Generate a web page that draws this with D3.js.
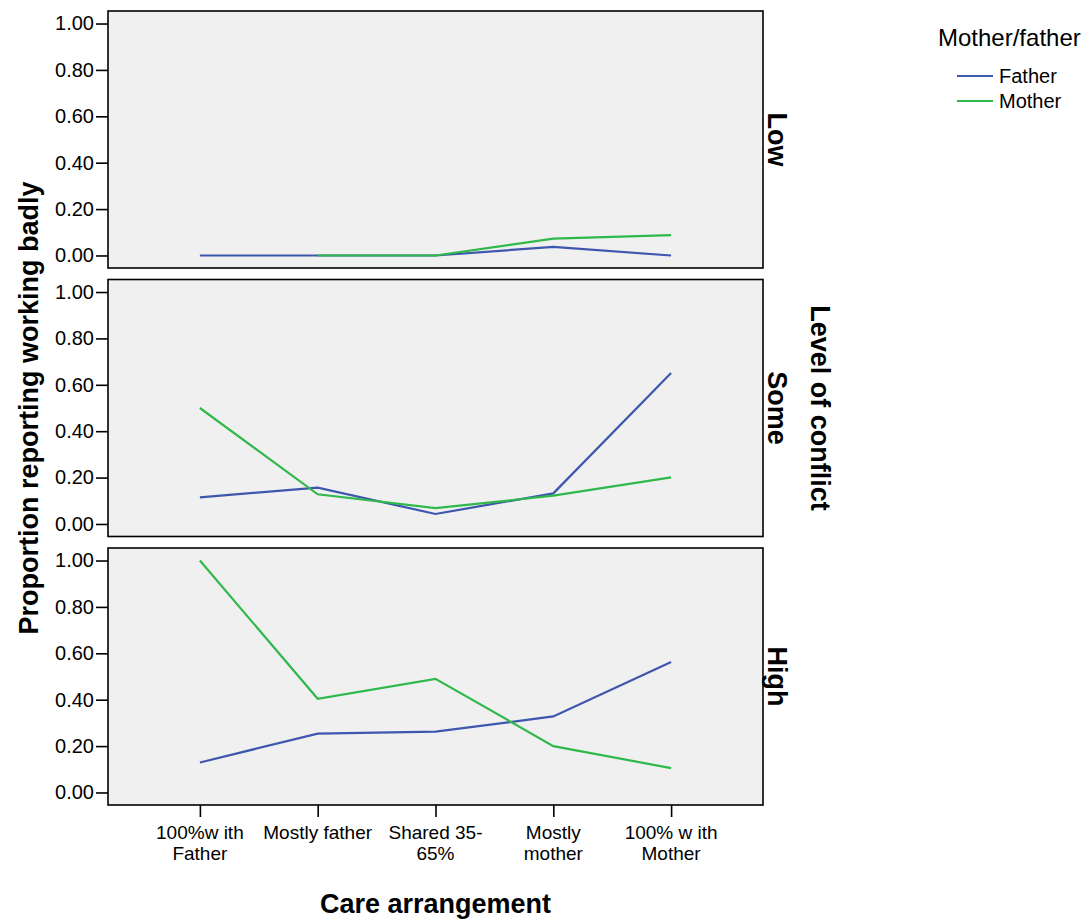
<!DOCTYPE html>
<html><head><meta charset="utf-8">
<script src="https://cdn.jsdelivr.net/npm/d3@7"></script>
<style>body{margin:0;background:#fff}svg{display:block}text{font-family:"Liberation Sans",Arial,sans-serif}</style>
</head><body><svg id="c" width="1092" height="922"></svg>
<script>
const categories = ["100%with Father","Mostly father","Shared 35-65%","Mostly mother","100% with Mother"];
const categoryLines = [["100%w ith","Father"],["Mostly father"],["Shared 35-","65%"],["Mostly","mother"],["100% w ith","Mother"]];
const panels = ["Low","Some","High"];
const seriesNames = ["Father","Mother"];
const fatherLow  = [0, 0, 0, 0.037, 0];
const motherLow  = [null, 0, 0, 0.073, 0.088];
const fatherSome = [0.115, 0.157, 0.043, 0.132, 0.651];
const motherSome = [0.500, 0.128, 0.068, 0.122, 0.201];
const fatherHigh = [0.129, 0.254, 0.262, 0.328, 0.563];
const motherHigh = [1.000, 0.404, 0.490, 0.200, 0.105];
const yTicks = [0, 0.2, 0.4, 0.6, 0.8, 1.0];

const data = {
  Low:  {Father: fatherLow,  Mother: motherLow},
  Some: {Father: fatherSome, Mother: motherSome},
  High: {Father: fatherHigh, Mother: motherHigh}
};
const colors = {Father:"#3d56ae", Mother:"#2fb84b"};

const svg = d3.select("#c");
const left = 108, right = 763;
const panelTops = [11, 279.5, 548];
const panelH = 257;

const x = d3.scalePoint().domain(categories).range([left, right]).padding(0.78);

panels.forEach((p, i) => {
  const top = panelTops[i];
  const y = d3.scaleLinear().domain([-0.054, 1.054]).range([top + panelH, top]);
  const g = svg.append("g");
  g.append("rect").attr("x", left).attr("y", top).attr("width", right-left).attr("height", panelH)
    .attr("fill", "#f0f0f0").attr("stroke", "#000").attr("stroke-width", 1.6);
  const ax = g.append("g").attr("transform", `translate(${left},0)`)
    .call(d3.axisLeft(y).tickValues(yTicks).tickFormat(d3.format(".2f")).tickSize(12).tickPadding(2));
  ax.select(".domain").remove();
  ax.selectAll(".tick line").attr("stroke", "#000").attr("stroke-width", 1.6);
  ax.selectAll(".tick text").attr("font-size", 20).attr("fill", "#000");
  seriesNames.forEach(s => {
    const vals = data[p][s];
    const line = d3.line().defined(d => d != null)
      .x((d, j) => x(categories[j])).y(d => y(d));
    g.append("path").datum(vals).attr("d", line).attr("fill", "none")
      .attr("stroke", colors[s]).attr("stroke-width", 2.2);
  });
  g.append("text").attr("transform", `translate(${right+5},${top+panelH/2}) rotate(90)`)
    .attr("text-anchor", "middle").attr("font-size", 27).attr("font-weight", "bold").text(p);
});

// x axis
const bottom = panelTops[2] + panelH;
const xa = svg.append("g").attr("transform", `translate(0,${bottom})`)
  .call(d3.axisBottom(x).tickSize(12).tickFormat(""));
xa.select(".domain").remove();
xa.selectAll(".tick line").attr("stroke", "#000").attr("stroke-width", 1.6);
categories.forEach((c, j) => {
  const t = svg.append("text").attr("x", x(c)).attr("y", bottom + 34)
    .attr("text-anchor", "middle").attr("font-size", 19);
  categoryLines[j].forEach((ln, k) => t.append("tspan").attr("x", x(c)).attr("dy", k ? 21 : 0).text(ln));
});

svg.append("text").attr("x", (left+right)/2).attr("y", 913).attr("text-anchor", "middle")
  .attr("font-size", 27).attr("font-weight", "bold").text("Care arrangement");
svg.append("text").attr("transform", `translate(38,${(panelTops[0]+bottom)/2}) rotate(-90)`)
  .attr("text-anchor", "middle").attr("font-size", 27).attr("font-weight", "bold").text("Proportion reporting working badly");
svg.append("text").attr("transform", `translate(811,${(panelTops[0]+bottom)/2}) rotate(90)`)
  .attr("text-anchor", "middle").attr("font-size", 27).attr("font-weight", "bold").text("Level of conflict");

// legend
svg.append("text").attr("x", 938).attr("y", 46).attr("font-size", 24).text("Mother/father");
seriesNames.forEach((s, k) => {
  const yy = 76 + k*25;
  svg.append("line").attr("x1", 957).attr("x2", 993).attr("y1", yy).attr("y2", yy)
    .attr("stroke", colors[s]).attr("stroke-width", 2.2);
  svg.append("text").attr("x", 999).attr("y", yy + 7).attr("font-size", 20).text(s);
});
</script></body></html>
